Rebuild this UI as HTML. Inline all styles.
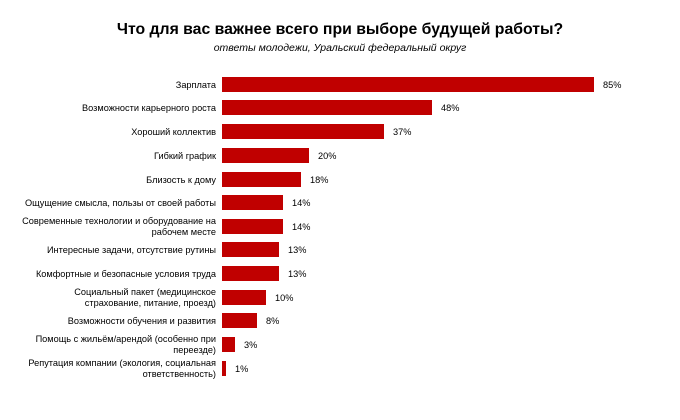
<!DOCTYPE html>
<html><head><meta charset="utf-8"><style>
body{margin:0;background:#fff}
svg{display:block;font-family:"Liberation Sans",Arial,sans-serif}
</style></head><body>
<svg width="680" height="420" viewBox="0 0 680 420">
<text x="340" y="34" text-anchor="middle" font-size="15.8" font-weight="bold" fill="#000">Что для вас важнее всего при выборе будущей работы?</text>
<text x="340" y="51" text-anchor="middle" font-size="10.5" font-style="italic" fill="#000">ответы молодежи, Уральский федеральный округ</text>
<g font-size="9.2" fill="#000">
<rect x="222" y="77" width="372" height="15" fill="#c00000"/><text x="603" y="88">85%</text>
<text x="216" y="88" text-anchor="end">Зарплата</text>
<rect x="222" y="100" width="210" height="15" fill="#c00000"/><text x="441" y="111">48%</text>
<text x="216" y="111" text-anchor="end">Возможности карьерного роста</text>
<rect x="222" y="124" width="162" height="15" fill="#c00000"/><text x="393" y="135">37%</text>
<text x="216" y="135" text-anchor="end">Хороший коллектив</text>
<rect x="222" y="148" width="87" height="15" fill="#c00000"/><text x="318" y="159">20%</text>
<text x="216" y="159" text-anchor="end">Гибкий график</text>
<rect x="222" y="172" width="79" height="15" fill="#c00000"/><text x="310" y="183">18%</text>
<text x="216" y="183" text-anchor="end">Близость к дому</text>
<rect x="222" y="195" width="61" height="15" fill="#c00000"/><text x="292" y="206">14%</text>
<text x="216" y="206" text-anchor="end">Ощущение смысла, пользы от своей работы</text>
<rect x="222" y="219" width="61" height="15" fill="#c00000"/><text x="292" y="230">14%</text>
<text x="216" y="224" text-anchor="end">Современные технологии и оборудование на</text>
<text x="216" y="235" text-anchor="end">рабочем месте</text>
<rect x="222" y="242" width="57" height="15" fill="#c00000"/><text x="288" y="253">13%</text>
<text x="216" y="253" text-anchor="end">Интересные задачи, отсутствие рутины</text>
<rect x="222" y="266" width="57" height="15" fill="#c00000"/><text x="288" y="277">13%</text>
<text x="216" y="277" text-anchor="end">Комфортные и безопасные условия труда</text>
<rect x="222" y="290" width="44" height="15" fill="#c00000"/><text x="275" y="301">10%</text>
<text x="216" y="295" text-anchor="end">Социальный пакет (медицинское</text>
<text x="216" y="306" text-anchor="end">страхование, питание, проезд)</text>
<rect x="222" y="313" width="35" height="15" fill="#c00000"/><text x="266" y="324">8%</text>
<text x="216" y="324" text-anchor="end">Возможности обучения и развития</text>
<rect x="222" y="337" width="13" height="15" fill="#c00000"/><text x="244" y="348">3%</text>
<text x="216" y="342" text-anchor="end">Помощь с жильём/арендой (особенно при</text>
<text x="216" y="353" text-anchor="end">переезде)</text>
<rect x="222" y="361" width="4" height="15" fill="#c00000"/><text x="235" y="372">1%</text>
<text x="216" y="366" text-anchor="end">Репутация компании (экология, социальная</text>
<text x="216" y="377" text-anchor="end">ответственность)</text>
</g>
</svg>
</body></html>
